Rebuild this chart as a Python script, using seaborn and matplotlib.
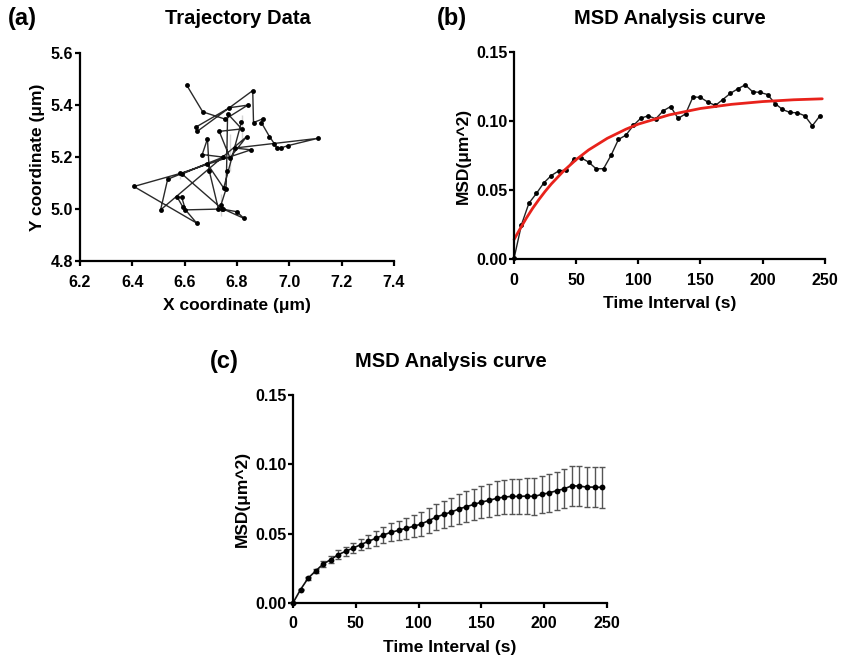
import numpy as np
import pandas as pd
import matplotlib
matplotlib.use("Agg")
import matplotlib.pyplot as plt
import seaborn as sns

sns.set_style("ticks")
plt.rcParams['font.family'] = ['Liberation Sans', 'DejaVu Sans']
plt.rcParams['font.weight'] = 'bold'
plt.rcParams['text.color'] = 'black'
plt.rcParams['axes.labelcolor'] = 'black'

# (a) trajectory in path order
traj_x = [6.607, 6.669, 6.755, 6.841, 6.771, 6.642, 6.648, 6.860, 6.863, 6.898,
          6.893, 6.924, 6.943, 6.952, 6.967, 6.994, 7.108, 6.952, 6.792, 6.853,
          6.582, 6.406, 6.646, 6.592, 6.572, 6.589, 6.603, 6.729, 6.694, 6.687,
          6.667, 6.747, 6.582, 6.535, 6.508, 6.582, 6.837, 6.773, 6.732, 6.818,
          6.764, 6.760, 6.773, 6.758, 6.739, 6.748, 6.827, 6.739, 6.799, 6.744,
          6.773, 6.590, 6.818, 6.686, 6.749, 6.817]
traj_y = [5.478, 5.374, 5.346, 5.400, 5.390, 5.315, 5.299, 5.456, 5.333, 5.347,
          5.333, 5.279, 5.251, 5.235, 5.235, 5.244, 5.272, 5.235, 5.235, 5.228,
          5.147, 5.087, 4.946, 5.010, 5.045, 5.045, 4.997, 5.000, 5.147, 5.270,
          5.210, 5.200, 5.117, 5.115, 4.997, 5.147, 5.279, 5.290, 5.299, 5.362,
          5.367, 5.147, 5.147, 5.077, 5.060, 5.000, 4.964, 4.974, 4.990, 5.000,
          5.155, 5.135, 5.255, 5.175, 5.081, 5.335]

# (b) single-trajectory MSD and its fit
lag_b = [6 * i for i in range(42)]
msd_b = [0.0005, 0.025, 0.0405, 0.0475, 0.0552, 0.0605, 0.0639, 0.0644, 0.0723, 0.0733,
         0.0702, 0.0654, 0.0654, 0.0750, 0.0866, 0.0897, 0.0967, 0.1020, 0.1037, 0.1015,
         0.1073, 0.1104, 0.1018, 0.1051, 0.1174, 0.1170, 0.1136, 0.1112, 0.1155, 0.1199,
         0.1232, 0.1261, 0.1211, 0.1206, 0.1191, 0.1126, 0.1083, 0.1061, 0.1059, 0.1037,
         0.0965, 0.1035]
fit_t = [0, 3, 6, 10, 15, 20, 25, 30, 40, 50, 60, 75, 90, 100, 125, 150, 175, 200, 225, 248]
fit_msd = [0.0142, 0.0190, 0.0237, 0.0298, 0.0368, 0.0431, 0.0490, 0.0544, 0.0639, 0.0720,
           0.0790, 0.0874, 0.0940, 0.0977, 0.1044, 0.1090, 0.1120, 0.1140, 0.1153, 0.1160]

# (c) averaged MSD with error bars
lag_c = [6 * i for i in range(42)]
msd_c = [0.0, 0.0096, 0.0178, 0.0230, 0.0280, 0.0312, 0.0348, 0.0372, 0.0396, 0.0420,
         0.0444, 0.0466, 0.0490, 0.0509, 0.0523, 0.0538, 0.0552, 0.0569, 0.0593, 0.0619,
         0.0638, 0.0655, 0.0677, 0.0694, 0.0710, 0.0727, 0.0739, 0.0754, 0.0763, 0.0768,
         0.0768, 0.0770, 0.0768, 0.0782, 0.0794, 0.0809, 0.0823, 0.0845, 0.0842, 0.0835,
         0.0835, 0.0833]
err_c = [0.0, 0.0005, 0.0010, 0.0015, 0.0020, 0.0025, 0.0030, 0.0033, 0.0037, 0.0042,
         0.0048, 0.0054, 0.0060, 0.0065, 0.0070, 0.0074, 0.0079, 0.0085, 0.0090, 0.0094,
         0.0098, 0.0102, 0.0106, 0.0110, 0.0113, 0.0116, 0.0119, 0.0122, 0.0124, 0.0126,
         0.0128, 0.0130, 0.0132, 0.0133, 0.0135, 0.0137, 0.0139, 0.0145, 0.0145, 0.0145,
         0.0146, 0.0148]

fig = plt.figure(figsize=(8.42, 6.56), dpi=100)
ax_a = fig.add_axes([0.095, 0.602, 0.373, 0.317])
ax_b = fig.add_axes([0.6105, 0.605, 0.369, 0.316])
ax_c = fig.add_axes([0.348, 0.081, 0.373, 0.317])

df_a = pd.DataFrame({'x': traj_x, 'y': traj_y})
sns.lineplot(data=df_a, x='x', y='y', sort=False, ax=ax_a, color='#2a2a2a',
             linewidth=1.0, marker='o', markersize=3.5, markeredgewidth=0,
             markerfacecolor='black')
ax_a.set_xlim(6.2, 7.4)
ax_a.set_ylim(4.8, 5.6)
ax_a.set_xticks(np.arange(6.2, 7.41, 0.2))
ax_a.set_yticks(np.arange(4.8, 5.61, 0.2))
ax_a.set_xlabel('X coordinate (μm)')
ax_a.set_ylabel('Y coordinate (μm)')

df_b = pd.DataFrame({'t': lag_b, 'msd': msd_b})
df_fit = pd.DataFrame({'t': fit_t, 'msd': fit_msd})
sns.lineplot(data=df_b, x='t', y='msd', ax=ax_b, color='#222222', linewidth=1.0,
             marker='o', markersize=3.5, markeredgewidth=0, markerfacecolor='black')
sns.lineplot(data=df_fit, x='t', y='msd', ax=ax_b, color='#e8221b', linewidth=2.0)
ax_b.set_xlim(0, 250)
ax_b.set_ylim(0, 0.15)
ax_b.set_xticks(range(0, 251, 50))
ax_b.set_yticks([0.0, 0.05, 0.10, 0.15])
ax_b.set_yticklabels(['0.00', '0.05', '0.10', '0.15'])
ax_b.set_xlabel('Time Interval (s)')
ax_b.set_ylabel('MSD(μm^2)')

df_c = pd.DataFrame({'t': lag_c, 'msd': msd_c})
ax_c.errorbar(lag_c, msd_c, yerr=err_c, fmt='none', ecolor='#555555',
              elinewidth=1.0, capsize=2.5, capthick=1.0)
sns.lineplot(data=df_c, x='t', y='msd', ax=ax_c, color='#111111', linewidth=1.2,
             marker='o', markersize=4.2, markeredgewidth=0, markerfacecolor='black')
ax_c.set_xlim(0, 250)
ax_c.set_ylim(0, 0.15)
ax_c.set_xticks(range(0, 251, 50))
ax_c.set_yticks([0.0, 0.05, 0.10, 0.15])
ax_c.set_yticklabels(['0.00', '0.05', '0.10', '0.15'])
ax_c.set_xlabel('Time Interval (s)')
ax_c.set_ylabel('MSD(μm^2)')

for ax in (ax_a, ax_b, ax_c):
    sns.despine(ax=ax)
    for sp in ('left', 'bottom'):
        ax.spines[sp].set_linewidth(1.6)
        ax.spines[sp].set_color('black')
    ax.tick_params(width=1.6, length=3.8, labelsize=11.5, colors='black')
    ax.tick_params(axis='x', pad=6)
    ax.tick_params(axis='y', pad=1)
    for lab in ax.get_xticklabels() + ax.get_yticklabels():
        lab.set_fontweight('bold')
    ax.xaxis.labelpad = 6
    ax.yaxis.labelpad = 4
    ax.xaxis.label.set_size(12.5)
    ax.yaxis.label.set_size(12.5)
    ax.xaxis.label.set_weight('bold')
    ax.yaxis.label.set_weight('bold')
    for ln in ax.lines:
        ln.set_clip_on(False)

# panel letters and titles
fig.text(0.009, 0.972, '(a)', fontsize=17, fontweight='bold', va='center')
fig.text(0.282, 0.972, 'Trajectory Data', fontsize=14.5, fontweight='bold',
         ha='center', va='center')
fig.text(0.519, 0.972, '(b)', fontsize=17, fontweight='bold', va='center')
fig.text(0.796, 0.972, 'MSD Analysis curve', fontsize=14.5, fontweight='bold',
         ha='center', va='center')
fig.text(0.249, 0.449, '(c)', fontsize=17, fontweight='bold', va='center')
fig.text(0.535, 0.449, 'MSD Analysis curve', fontsize=14.5, fontweight='bold',
         ha='center', va='center')

fig.savefig('out.png', dpi=100)
